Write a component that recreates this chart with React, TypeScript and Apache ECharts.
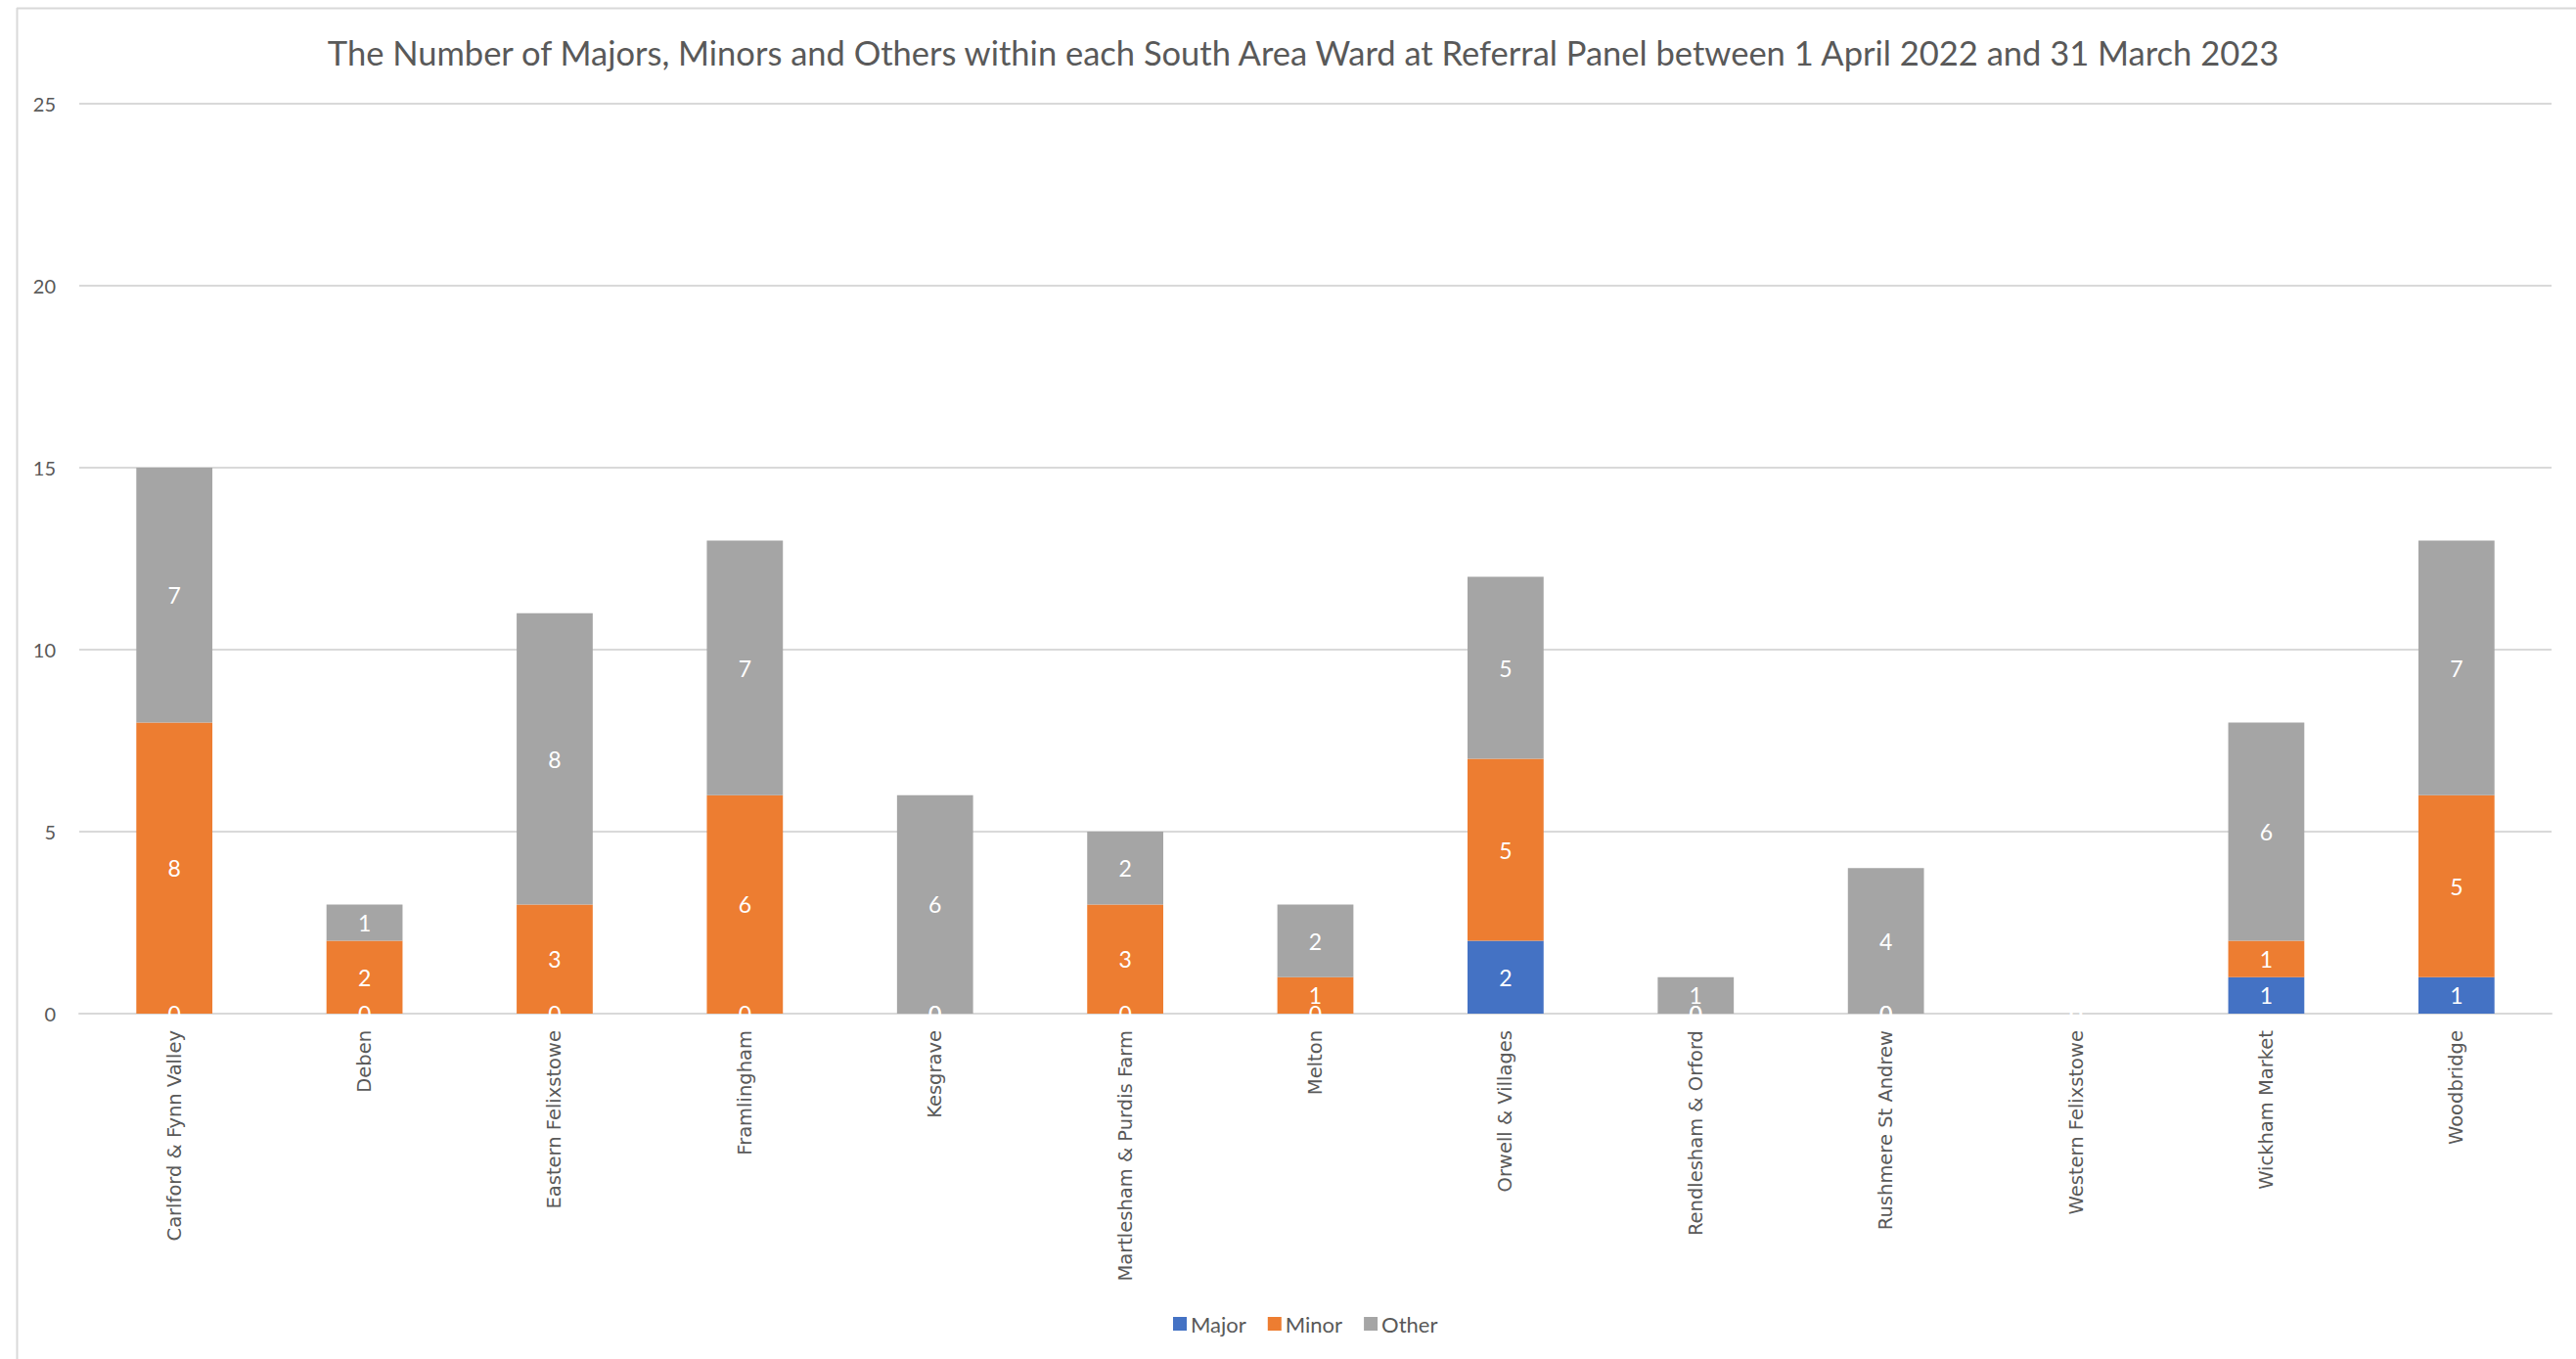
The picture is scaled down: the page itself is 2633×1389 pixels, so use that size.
import React, { useEffect, useRef } from "react";
import * as echarts from "echarts";

const categories = [
  "Carlford & Fynn Valley",
  "Deben",
  "Eastern Felixstowe",
  "Framlingham",
  "Kesgrave",
  "Martlesham & Purdis Farm",
  "Melton",
  "Orwell & Villages",
  "Rendlesham & Orford",
  "Rushmere St Andrew",
  "Western Felixstowe",
  "Wickham Market",
  "Woodbridge",
];
const majorValues = [0, 0, 0, 0, 0, 0, 0, 2, 0, 0, 0, 1, 1];
const minorValues = [8, 2, 3, 6, 0, 3, 1, 5, 0, 0, 0, 1, 5];
const otherValues = [7, 1, 8, 7, 6, 2, 2, 5, 1, 4, 0, 6, 7];
const yTicks = [0, 5, 10, 15, 20, 25];

const TITLE =
  "The Number of Majors, Minors and Others within each South Area Ward at Referral Panel between 1 April 2022 and 31 March 2023";

const TEXT = "#595959";
const GRID = "#D9D9D9";

export default function App() {
  const ref = useRef<HTMLDivElement>(null);
  useEffect(() => {
    if (!ref.current) return;
    const chart = echarts.init(ref.current, undefined, { renderer: "svg" });
    const label = {
      show: true,
      position: "inside",
      color: "#FFFFFF",
      fontFamily: "'Liberation Sans Narrow', Lato, sans-serif",
      fontSize: 23,
    };
    const mk = (name: string, data: number[], color: string) => ({
      name,
      type: "bar",
      stack: "total",
      data,
      barCategoryGap: "60%",
      itemStyle: { color },
      label,
    });
    chart.setOption({
      animation: false,
      backgroundColor: "#FFFFFF",
      title: {
        text: TITLE,
        left: 1327,
        textAlign: "center",
        top: 31,
        textStyle: {
          color: TEXT,
          fontFamily: "Lato, sans-serif",
          fontWeight: "normal",
          fontSize: 34.5,
        },
      },
      graphic: [
        {
          type: "line",
          shape: { x1: 17.5, y1: 8, x2: 17.5, y2: 1389 },
          style: { stroke: GRID, lineWidth: 2 },
          silent: true,
        },
        {
          type: "line",
          shape: { x1: 17, y1: 8.5, x2: 2633, y2: 8.5 },
          style: { stroke: GRID, lineWidth: 2 },
          silent: true,
        },
      ],
      legend: {
        left: 1194,
        top: 1337,
        itemWidth: 14,
        itemHeight: 14,
        itemGap: 22,
        icon: "rect",
        textStyle: {
          color: TEXT,
          fontFamily: "Lato, sans-serif",
          fontSize: 22,
          padding: [0, 0, 0, -1],
        },
        data: ["Major", "Minor", "Other"],
      },
      grid: { left: 81, right: 25, top: 106, bottom: 353, containLabel: false },
      xAxis: {
        type: "category",
        data: categories,
        axisLine: { lineStyle: { color: GRID, width: 2 } },
        axisTick: { show: false },
        axisLabel: {
          interval: 0,
          rotate: 90,
          margin: 17,
          color: TEXT,
          fontFamily: "'DejaVu Sans', sans-serif",
          fontSize: 19.5,
        },
      },
      yAxis: {
        type: "value",
        min: yTicks[0],
        max: yTicks[yTicks.length - 1],
        interval: yTicks[1] - yTicks[0],
        axisLine: { show: false },
        axisTick: { show: false },
        splitLine: { lineStyle: { color: GRID, width: 2 } },
        axisLabel: {
          margin: 24,
          color: TEXT,
          fontFamily: "Lato, sans-serif",
          fontSize: 20,
        },
      },
      series: [
        mk("Major", majorValues, "#4472C4"),
        mk("Minor", minorValues, "#ED7D31"),
        mk("Other", otherValues, "#A5A5A5"),
      ],
    });
    return () => chart.dispose();
  }, []);
  return (
    <div
      ref={ref}
      style={{ position: "fixed", left: 0, top: 0, width: 2633, height: 1389 }}
    />
  );
}
